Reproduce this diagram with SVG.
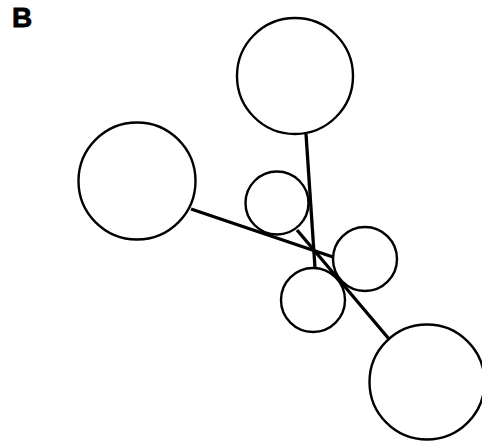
<svg xmlns="http://www.w3.org/2000/svg" width="482" height="444" viewBox="0 0 482 444">
  <style>
    .edge { stroke: #000; stroke-width: 3.3; stroke-linecap: butt; fill: none; }
    .node circle { fill: #fff; stroke: #000; stroke-width: 2.4; }
    .panel { font-family: "Liberation Sans", Arial, sans-serif; font-weight: bold; font-size: 28px; fill: #000; stroke: #000; stroke-width: 0.8; }
  </style>
  <rect width="482" height="444" fill="#fff"/>
  <text class="panel" x="12" y="27">B</text>

  <!-- connectors -->
  <g id="edges">
    <line class="edge" x1="306" y1="134" x2="315" y2="268"/>
    <line class="edge" x1="191" y1="209" x2="333" y2="257"/>
    <line class="edge" x1="297" y1="230" x2="389" y2="339"/>
  </g>

  <!-- nodes -->
  <g id="node-top" class="node"><circle cx="295" cy="76" r="58"/></g>
  <g id="node-left" class="node"><circle cx="137" cy="181" r="58.5"/></g>
  <g id="node-bottom-right" class="node"><circle cx="427" cy="382" r="57.5"/></g>
  <g id="node-small-upper" class="node"><circle cx="277" cy="203" r="31.5"/></g>
  <g id="node-small-right" class="node"><circle cx="365" cy="259" r="32"/></g>
  <g id="node-small-lower" class="node"><circle cx="313" cy="300" r="32"/></g>
</svg>
